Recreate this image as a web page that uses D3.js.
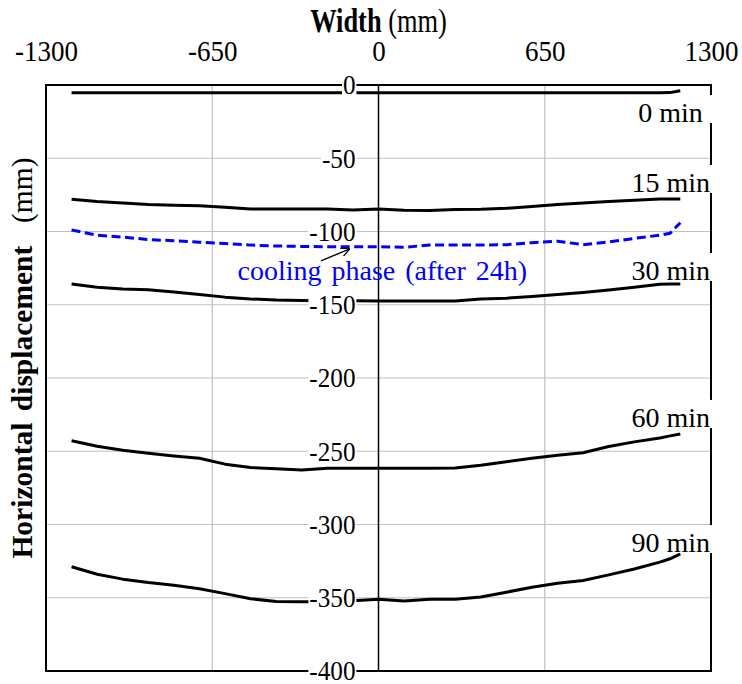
<!DOCTYPE html>
<html>
<head>
<meta charset="utf-8">
<script src="https://cdn.jsdelivr.net/npm/d3@7"></script>
<style>
  body { margin: 0; background: #fff; }
  text { font-family: "Liberation Serif", "Times New Roman", serif; }
</style>
</head>
<body>
<div id="graf"></div>
<script>
// datos (mm)
const widthMm = [-1200, -1100, -1000, -900, -800, -700, -600, -500, -400, -300, -200, -100, 0,
                 100, 200, 300, 400, 500, 600, 700, 800, 900, 1000, 1100, 1140, 1180]

const min0  = [-5.3, -5.3, -5.3, -5.3, -5.3, -5.3, -5.3, -5.3, -5.3, -5.3, -5.3, -5.3, -5.3,
               -5.3, -5.3, -5.3, -5.3, -5.3, -5.3, -5.3, -5.3, -5.3, -5.3, -5.3, -5.2, -3.9]
const min15 = [-78, -79.5, -80.5, -81.5, -82, -82.5, -83.5, -84.6, -84.6, -84.6, -84.6, -85.3, -84.6,
               -85.5, -85.6, -85, -84.8, -84.2, -83, -81.5, -80.5, -79.5, -78.6, -77.8, -77.8, -77.8]
const cooling = [-99, -102.5, -103.8, -105.5, -106.3, -107.3, -108.2, -109.3, -109.9, -110.2, -110.4, -110.4, -110.4,
                 -110.8, -109.2, -109.2, -109.2, -109, -107.6, -106.6, -109, -107.2, -104.7, -102.5, -101.2, -94]
const min30 = [-135.8, -138, -139.2, -139.8, -141.3, -143, -144.8, -146, -146.8, -147.1, -147.3, -147.3, -147.4,
               -147.4, -147.4, -147.4, -146, -145.5, -144.3, -143, -141.6, -139.9, -138, -136, -135.9, -135.8]
const min60 = [-242.8, -246.6, -249.3, -251.3, -253.2, -254.8, -258.8, -261.1, -262, -262.8, -261.6, -261.6, -261.6,
               -261.6, -261.6, -261.4, -259.5, -257.2, -254.8, -252.7, -251, -246.8, -243.6, -240.9, -239.5, -238.2]
const min90 = [-328.8, -334, -337.3, -339.6, -341.4, -343.9, -347.2, -350.7, -352.5, -352.7, -352.7, -352, -351,
               -352.3, -351, -351, -349.5, -346.2, -342.8, -340.1, -338.2, -334.4, -330.4, -325.7, -323.4, -320.1]

const curveNames = ['0 min', '15 min', '30 min', '60 min', '90 min']
const curveValues = [min0, min15, min30, min60, min90]
// donde va cada etiqueta (x del borde derecho, y de la base)
const labelX = [1268, 1296, 1296, 1296, 1296]
const labelY = [-25.3, -73, -133.1, -233.4, -318.8]

const xTicks = [-1300, -650, 0, 650, 1300]
const yTicks = [0, -50, -100, -150, -200, -250, -300, -350, -400]
const xGrid = [-650, 650]

const ancho_total = 742
const alto_total = 684
const margins = { top: 85, left: 46, right: 31, bottom: 13 }
const ancho = ancho_total - margins.left - margins.right
const alto = alto_total - margins.top - margins.bottom

const svg = d3.select('#graf').append('svg')
  .attr('width', ancho_total)
  .attr('height', alto_total)

const g = svg.append('g')
  .attr('transform', `translate(${margins.left},${margins.top})`)

const x = d3.scaleLinear().domain([-1300, 1300]).range([0, ancho])
const y = d3.scaleLinear().domain([-400, 0]).range([alto, 0])

// GRILLA
g.selectAll('.gx').data(xGrid).enter().append('line')
  .attr('x1', d => x(d)).attr('x2', d => x(d))
  .attr('y1', 0).attr('y2', alto)
  .attr('stroke', '#c0c0c0').attr('stroke-width', 1.2)

g.selectAll('.gy').data(yTicks.slice(1, -1)).enter().append('line')
  .attr('x1', 0).attr('x2', ancho)
  .attr('y1', d => y(d)).attr('y2', d => y(d))
  .attr('stroke', '#c0c0c0').attr('stroke-width', 1.2)

// eje cero
g.append('line')
  .attr('x1', x(0)).attr('x2', x(0))
  .attr('y1', 0).attr('y2', alto)
  .attr('stroke', '#000').attr('stroke-width', 1.5)

// marco
g.append('rect')
  .attr('width', ancho).attr('height', alto)
  .attr('fill', 'none').attr('stroke', '#000').attr('stroke-width', 2)

// CURVAS
const line = d3.line()
  .x((d, i) => x(widthMm[i]))
  .y(d => y(d))

g.selectAll('.curve').data(curveValues).enter().append('path')
  .attr('d', line)
  .attr('fill', 'none')
  .attr('stroke', '#000')
  .attr('stroke-width', 3)
  .attr('stroke-linejoin', 'round')

g.append('path')
  .attr('d', line(cooling))
  .attr('fill', 'none')
  .attr('stroke', '#0000ff')
  .attr('stroke-width', 3)
  .attr('stroke-dasharray', '9,4.5')

// EJE Y (etiquetas sobre el eje cero)
const yAxis = d3.axisLeft(y).tickValues(yTicks).tickSize(0).tickPadding(23)
const ya = g.append('g')
  .attr('transform', `translate(${x(0)},0)`)
  .call(yAxis)
ya.select('.domain').remove()
ya.selectAll('text')
  .attr('x', 0)
  .attr('transform', 'translate(-23,0) scale(0.9,1)')
  .style('font-family', '"Liberation Serif", "Times New Roman", serif')
  .style('font-size', '28px')
  .attr('fill', '#000')
  .text(d => d === 0 ? '0' : '-' + Math.abs(d))
ya.selectAll('.tick').each(function () {
  const t = d3.select(this).select('text')
  const b = t.node().getBBox()
  d3.select(this).insert('rect', 'text')
    .attr('transform', 'translate(-23,0) scale(0.9,1)')
    .attr('x', b.x - 1).attr('y', b.y + 4)
    .attr('width', b.width + 2).attr('height', b.height - 8)
    .attr('fill', '#fff')
})

// EJE X (arriba)
const xAxis = d3.axisTop(x).tickValues(xTicks).tickSize(0).tickPadding(24)
const xa = g.append('g').call(xAxis)
xa.select('.domain').remove()
xa.selectAll('text')
  .attr('transform', 'scale(0.9,1)')
  .style('font-family', '"Liberation Serif", "Times New Roman", serif')
  .style('font-size', '30px')
  .attr('fill', '#000')
  .text(d => d < 0 ? '-' + Math.abs(d) : d)

// ETIQUETAS DE CURVAS
curveNames.forEach((name, i) => {
  const t = g.append('text')
    .attr('x', x(labelX[i]))
    .attr('y', y(labelY[i]))
    .attr('text-anchor', 'end')
    .style('font-size', '28px')
    .text(name)
  const b = t.node().getBBox()
  g.insert('rect', () => t.node())
    .attr('x', b.x - 4)
    .attr('y', y(labelY[i]) - 27)
    .attr('width', ancho + 4 - (b.x - 4))
    .attr('height', 28)
    .attr('fill', '#fff')
})

// ANOTACION
g.append('text')
  .attr('x', x(15))
  .attr('y', y(-133.1))
  .attr('text-anchor', 'middle')
  .attr('fill', '#0000ff')
  .style('font-size', '28px')
  .style('word-spacing', '3px')
  .text('cooling phase (after 24h)')

svg.append('defs').append('marker')
  .attr('id', 'flecha')
  .attr('viewBox', '0 0 10 10')
  .attr('refX', 9).attr('refY', 5)
  .attr('markerWidth', 9).attr('markerHeight', 9)
  .attr('markerUnits', 'userSpaceOnUse')
  .attr('orient', 'auto')
  .append('path')
  .attr('d', 'M0,0 L10,5 L0,10')
  .attr('fill', 'none').attr('stroke', '#000').attr('stroke-width', 1.4)

g.append('line')
  .attr('x1', x(-225)).attr('y1', y(-120.1))
  .attr('x2', x(-115)).attr('y2', y(-112))
  .attr('stroke', '#000').attr('stroke-width', 1.4)
  .attr('marker-end', 'url(#flecha)')

// TITULOS
const tx = svg.append('text')
  .attr('transform', `translate(${margins.left + x(0)},32) scale(0.8,1)`)
  .attr('text-anchor', 'middle')
  .style('font-size', '33px')
tx.append('tspan').style('font-weight', 'bold').text('Width')
tx.append('tspan').text('\u00a0(mm)')

const ty = svg.append('text')
  .attr('transform', `translate(32,358) rotate(-90)`)
  .attr('text-anchor', 'middle')
  .style('font-size', '29.5px')
  .style('word-spacing', '4px')
ty.append('tspan').style('font-weight', 'bold').text('Horizontal displacement')
ty.append('tspan').text('\u00a0\u00a0(mm)')
</script>
</body>
</html>
